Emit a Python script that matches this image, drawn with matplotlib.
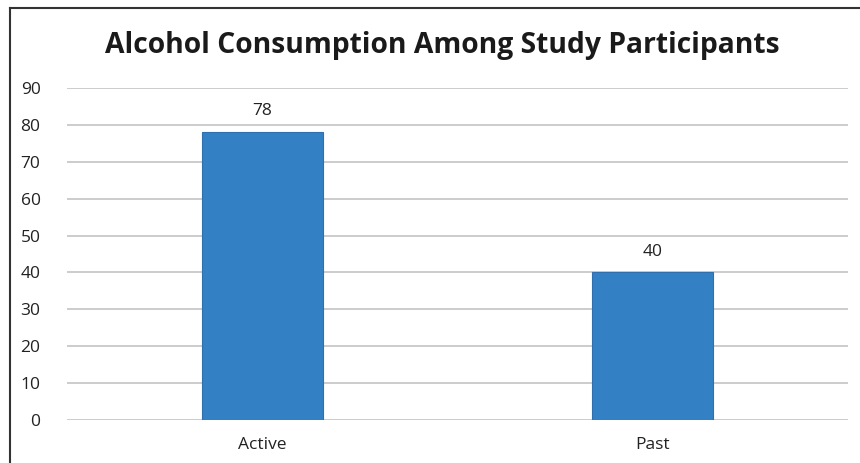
import matplotlib
matplotlib.use("Agg")
import matplotlib.pyplot as plt
from matplotlib.lines import Line2D

categories = ["Active", "Past"]
values = [78, 40]
yticks = [0, 10, 20, 30, 40, 50, 60, 70, 80, 90]

W, H = 860, 463
fig = plt.figure(figsize=(W / 100, H / 100), dpi=100)
plt.rcParams['font.family'] = ['Open Sans', 'DejaVu Sans']

left, right, bottom, top = 67, 848, 420, 88
ax = fig.add_axes([left / W, (H - bottom) / H, (right - left) / W, (bottom - top) / H])

x = range(len(categories))
bars = ax.bar(x, values, width=0.31, color="#3380C4", edgecolor="#2F6FAD", linewidth=0.8, zorder=3)
for xi, v in zip(x, values):
    ax.text(xi, v + 3.5, str(v), ha="center", va="bottom", fontsize=12.5, color="#222222")

ax.set_xlim(-0.5, 1.5)
ax.set_ylim(0, 90)
ax.set_yticks(yticks)
ax.set_yticklabels([str(t) for t in yticks], fontsize=12.5, color="#222222")
ax.set_xticks(list(x))
ax.set_xticklabels(categories, fontsize=12.5, color="#222222")
ax.tick_params(axis="y", length=0, pad=19)
ax.tick_params(axis="x", length=0, pad=12)
ax.grid(axis="y", color="#C8C8C8", linewidth=1.3, zorder=0)
for s in ax.spines.values():
    s.set_visible(False)

fig.text(442 / W, 1 - 45 / H, "Alcohol Consumption Among Study Participants",
         ha="center", va="center", fontsize=20.3, fontweight="bold", color="#1a1a1a")

fig.add_artist(Line2D([10 / W, 1], [1 - 8 / H, 1 - 8 / H], color="#333333", linewidth=1.5, transform=fig.transFigure))
fig.add_artist(Line2D([10 / W, 10 / W], [0, 1 - 8 / H], color="#333333", linewidth=1.5, transform=fig.transFigure))

fig.savefig("out.png", dpi=100)
